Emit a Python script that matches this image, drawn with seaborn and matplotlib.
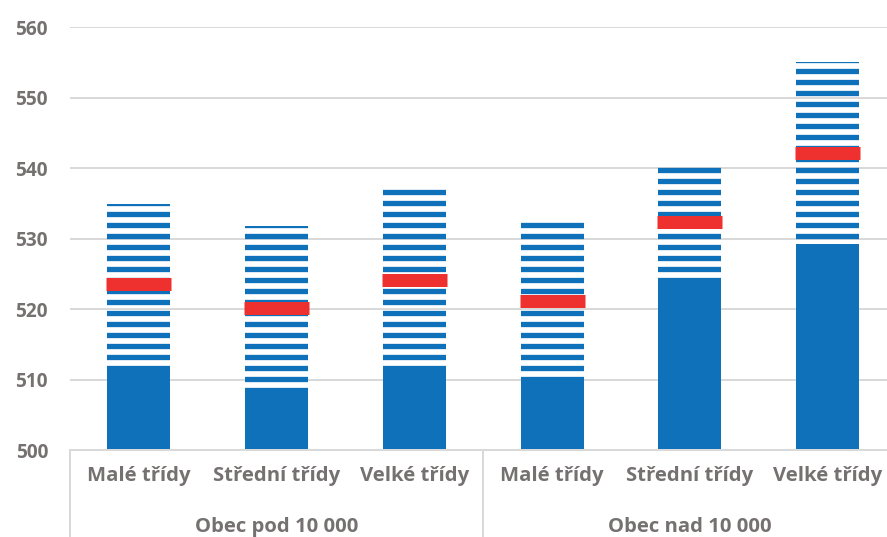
import matplotlib
matplotlib.use('Agg')
import matplotlib.pyplot as plt
import seaborn as sns
import numpy as np
import pandas as pd

# hodnoty
tridy = ['Malé třídy', 'Střední třídy', 'Velké třídy',
         'Malé třídy', 'Střední třídy', 'Velké třídy']
skupiny = ['Obec pod 10 000', 'Obec nad 10 000']
dolni = [511.7, 508.5, 511.5, 509.9, 524.4, 529.2]    # spodni hranice intervalu
horni = [534.9, 531.8, 537.3, 532.7, 540.4, 555.0]    # horni hranice intervalu
prumer = [523.6, 520.2, 524.1, 521.2, 532.4, 542.1]   # prumer (cervena znacka)

BLUE = '#0F71BA'
RED = '#EE302E'
GRAY = '#767171'
LINE = '#D9D9D9'

DPI = 66
px = 72 / DPI  # prevod px -> pt
FS_X = 20.3 * px
FS_Y = 19 * px

sns.set_style('white')
plt.rcParams['font.family'] = ['Open Sans', 'DejaVu Sans']
plt.rcParams['hatch.linewidth'] = 5.3 * px

fig = plt.figure(figsize=(887 / DPI, 537 / DPI), dpi=DPI)
ax = fig.add_axes([70 / 887, 87 / 537, (896.5 - 70) / 887, 423 / 537])

df = pd.DataFrame({'poz': range(len(tridy)), 'dolni': dolni})
sns.barplot(data=df, x='poz', y='dolni', color=BLUE, saturation=1,
            width=0.458, linewidth=0, ax=ax, zorder=2)

x = np.arange(len(tridy))
ax.bar(x, np.array(horni) - np.array(dolni), bottom=dolni, width=0.458,
       facecolor='none', edgecolor=BLUE, hatch='-', linewidth=0, zorder=2)
ax.hlines(prumer, x - 0.236, x + 0.236, colors=RED, linewidth=13 * px, zorder=3)

ax.set_ylim(500, 560)
ax.set_xlim(-0.5, 5.5)
ax.set_yticks(range(500, 561, 10))
ax.yaxis.grid(True, color=LINE, linewidth=2 * px, zorder=0)
ax.set_axisbelow(True)
for s in ['left', 'right', 'top']:
    ax.spines[s].set_visible(False)
ax.spines['bottom'].set_color(LINE)
ax.spines['bottom'].set_linewidth(2 * px)

ax.set_xticks(x)
ax.set_xticklabels(tridy)
ax.set_xlabel('')
ax.set_ylabel('')
ax.tick_params(axis='both', length=0, labelcolor=GRAY)
ax.tick_params(axis='x', pad=16 * px, labelsize=FS_X)
ax.tick_params(axis='y', pad=22 * px, labelsize=FS_Y)
for lab in ax.get_xticklabels() + ax.get_yticklabels():
    lab.set_fontweight('bold')

# dvouurovnova osa x
tr = ax.get_xaxis_transform()
for xs in [-0.5, 2.5, 5.5]:
    ax.plot([xs, xs], [0, -0.25], transform=tr, clip_on=False,
            color=LINE, linewidth=2 * px)
for i, sk in enumerate(skupiny):
    ax.text(1 + 3 * i, -0.182, sk, transform=tr, ha='center', va='center',
            fontsize=FS_X, fontweight='bold', color=GRAY)

fig.savefig('out.png', dpi=DPI)
